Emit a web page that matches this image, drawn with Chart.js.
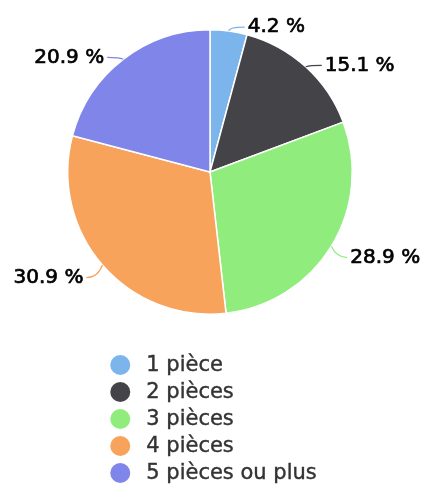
<!DOCTYPE html>
<html>
<head>
<meta charset="utf-8">
<script src="https://cdn.jsdelivr.net/npm/chart.js@4/dist/chart.umd.min.js"></script>
<style>
  html, body { margin: 0; padding: 0; background: #fff; }
  #wrap { width: 427px; height: 484px; }
</style>
</head>
<body>
<div id="wrap"><canvas id="pieChart"></canvas></div>
<script>
const categories = ["1 pièce", "2 pièces", "3 pièces", "4 pièces", "5 pièces ou plus"];
const shares = [4.2, 15.1, 28.9, 30.9, 20.9];
const colors = ["#7cb5ec", "#434348", "#90ed7d", "#f7a35c", "#8085e9"];

// labels outside the pie, with a small curved connector
const outsideLabels = {
  id: "outsideLabels",
  afterDatasetsDraw(chart) {
    const c = chart.ctx;
    const meta = chart.getDatasetMeta(0);
    c.save();
    c.font = "20px 'DejaVu Sans'";
    c.textBaseline = "middle";
    meta.data.forEach((arc, i) => {
      const p = arc.getProps(["x", "y", "startAngle", "endAngle", "outerRadius"], true);
      const mid = (p.startAngle + p.endAngle) / 2;
      const dx = Math.cos(mid), dy = Math.sin(mid);
      const sx = p.x + dx * p.outerRadius, sy = p.y + dy * p.outerRadius;
      const side = dx >= 0 ? 1 : -1;
      const ey = sy + dy * 10 + 6;
      const ex = sx + side * 16;
      c.strokeStyle = colors[i];
      c.lineWidth = 1.2;
      c.beginPath();
      c.moveTo(sx, sy);
      c.quadraticCurveTo(sx + dx * 6, ey, ex, ey);
      c.stroke();
      const txt = shares[i].toFixed(1) + " %";
      c.fillStyle = "#000";
      c.strokeStyle = "#000";
      c.lineWidth = 0.7;
      c.textAlign = side > 0 ? "left" : "right";
      c.fillText(txt, ex + side * 3, ey);
      c.strokeText(txt, ex + side * 3, ey);
    });
    c.restore();
  }
};

// vertical legend under the pie, centred as a block
const listLegend = {
  id: "listLegend",
  afterDraw(chart) {
    const c = chart.ctx;
    c.save();
    c.font = "21px 'DejaVu Sans'";
    c.textBaseline = "middle";
    const widest = Math.max(...categories.map(t => c.measureText(t).width));
    const boxW = 36 + widest;
    const left = (chart.width - boxW) / 2;
    const top = 365, step = 27;
    categories.forEach((t, i) => {
      const y = top + i * step;
      c.fillStyle = colors[i];
      c.beginPath();
      c.arc(left + 10, y, 10, 0, Math.PI * 2);
      c.fill();
      c.fillStyle = "#333";
      c.strokeStyle = "#333";
      c.lineWidth = 0.4;
      c.textAlign = "left";
      c.fillText(t, left + 36, y + 1);
      c.strokeText(t, left + 36, y + 1);
    });
    c.restore();
  }
};

new Chart(document.getElementById("pieChart"), {
  type: "pie",
  data: {
    labels: categories,
    datasets: [{
      data: shares,
      backgroundColor: colors,
      borderColor: "#fff",
      borderWidth: 1.5
    }]
  },
  options: {
    responsive: true,
    maintainAspectRatio: false,
    animation: false,
    layout: { padding: { top: 29, bottom: 169, left: 67, right: 74 } },
    plugins: {
      legend: { display: false },
      tooltip: { enabled: false }
    }
  },
  plugins: [outsideLabels, listLegend]
});
</script>
</body>
</html>
